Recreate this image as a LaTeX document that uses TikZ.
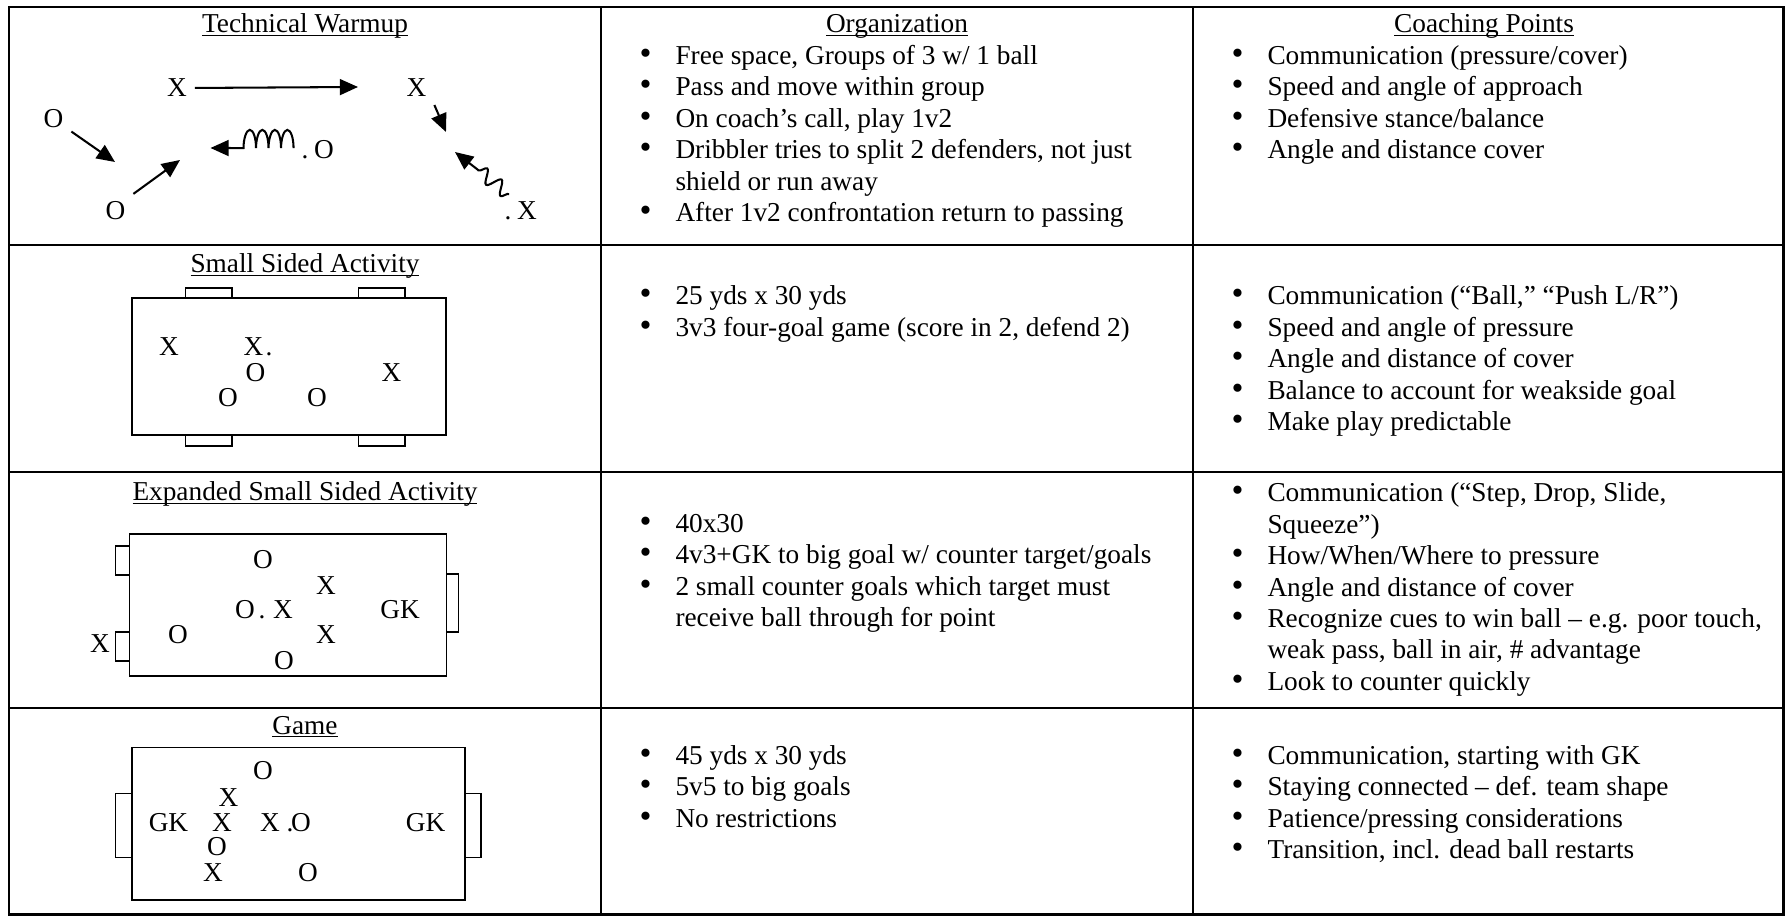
\documentclass[tikz,border=0pt]{standalone}
\usepackage{fontspec}
\setmainfont{Liberation Serif}
\usetikzlibrary{positioning, arrows.meta, decorations.pathmorphing}
\newcommand\ulined[1]{\setbox0\hbox{#1}\rlap{\rule[-1.5pt]{\wd0}{0.6pt}}\box0}
\newcommand\itm{\makebox[24.2pt][l]{\hspace{8.4pt}\scalebox{1.25}{\textbullet}}}
\newcommand\cont{\hspace{24.2pt}}

\begin{document}
\begin{tikzpicture}[x=0.4396pt, y=-0.4396pt,
  every node/.style={font=\fontsize{12}{13.8}\selectfont},
  grid/.style={line width=1pt},
  field/.style={draw, line width=0.8pt},
  player/.style={anchor=base},
  ball/.style={anchor=base},
  heading/.style={anchor=base},
  list/.style={anchor=base west, inner sep=0pt},
  arr/.style={-{Triangle[length=8pt, width=7pt]}, line width=0.9pt},
  dribble/.style={arr, decorate, decoration={bumps, mirror, amplitude=8pt, segment length=11pt, post length=10pt}},
  wiggle/.style={arr, decorate, decoration={snake, amplitude=3pt, segment length=8pt, post length=10pt}}]
  \useasboundingbox (0,0) rectangle (1785,916);

  % table
  \draw[grid] (9,7) rectangle (1783.5,914.5);
  \foreach \y in {245,472,708} \draw[grid] (9,\y) -- (1783.5,\y);
  \foreach \x in {601,1193} \draw[grid] (\x,7) -- (\x,914.5);

  % row 1: technical warmup
  \node[heading] (warmup) at (305,33) {\ulined{Technical Warmup}};
  \node[heading] (orghead) at (897,33) {\ulined{Organization}};
  \node[heading] (coachhead) at (1484,33) {\ulined{Coaching Points}};
  \node[player] (xA) at (177,97) {X};
  \node[player] (xB) at (416.5,97) {X};
  \node[player] (oA) at (53.5,128) {O};
  \node[ball] (bA) at (305,159) {.};
  \node[player] (oC) at (324,159) {O};
  \node[player] (oB) at (115.5,220) {O};
  \node[ball] (bB) at (508,220) {.};
  \node[player] (xC) at (527,220) {X};
  \coordinate (passA) at (358,87);
  \coordinate (runB) at (446,132);
  \coordinate (runA) at (115,162);
  \coordinate (passB) at (180,160);
  \coordinate (dribA) at (210.5,148);
  \coordinate (dribB) at (455,152);
  \draw[arr] (xA) -- (passA);
  \draw[arr] (xB.south east) -- (runB);
  \draw[arr] (oA) -- (runA);
  \draw[arr] (oB.north east) -- (passB);
  \draw[dribble] (bA.north west) -- (dribA);
  \draw[wiggle] (xC.north west) -- (dribB);
  \node[list] (org1) at (620,64.5) {\begin{tabular}[t]{@{}l@{}}
    \itm Free space, Groups of 3 w/ 1 ball\\
    \itm Pass and move within group\\
    \itm On coach’s call, play 1v2\\
    \itm Dribbler tries to split 2 defenders, not just\\
    \cont shield or run away\\
    \itm After 1v2 confrontation return to passing
  \end{tabular}};
  \node[list] (coach1) at (1212,64.5) {\begin{tabular}[t]{@{}l@{}}
    \itm Communication (pressure/cover)\\
    \itm Speed and angle of approach\\
    \itm Defensive stance/balance\\
    \itm Angle and distance cover
  \end{tabular}};

  % row 2: small sided activity
  \node[heading] (small) at (305,272.5) {\ulined{Small Sided Activity}};
  \draw[field] (132,298) rectangle (446,435);
  \foreach \x in {185.5,358.5} {
    \draw[field] (\x,288) rectangle ++(46.5,10);
    \draw[field] (\x,435) rectangle ++(46.5,11);
  }
  \node[player] (xD) at (169,355.5) {X};
  \node[player] (xE) at (253.5,355.5) {X};
  \node[ball] (bC) at (269,355.5) {.};
  \node[player] (oD) at (255.5,382) {O};
  \node[player] (xF) at (391.5,382) {X};
  \node[player] (oE) at (228,407) {O};
  \node[player] (oF) at (317,407) {O};
  \node[list] (org2) at (620,305) {\begin{tabular}[t]{@{}l@{}}
    \itm 25 yds x 30 yds\\
    \itm 3v3 four-goal game (score in 2, defend 2)
  \end{tabular}};
  \node[list] (coach2) at (1212,305) {\begin{tabular}[t]{@{}l@{}}
    \itm Communication (“Ball,” “Push L/R”)\\
    \itm Speed and angle of pressure\\
    \itm Angle and distance of cover\\
    \itm Balance to account for weakside goal\\
    \itm Make play predictable
  \end{tabular}};

  % row 3: expanded small sided activity
  \node[heading] (expanded) at (305,500.5) {\ulined{Expanded Small Sided Activity}};
  \draw[field] (129.5,534) rectangle (446.5,676);
  \draw[field] (115.5,546) rectangle (129.5,575);
  \draw[field] (115.5,632) rectangle (129.5,661);
  \draw[field] (446.5,574) rectangle (458.5,632);
  \node[player] (oG) at (263,568) {O};
  \node[player] (xG) at (326,594) {X};
  \node[player] (oH) at (245,618) {O};
  \node[ball] (bD) at (262,618) {.};
  \node[player] (xH) at (283,618) {X};
  \node[player] (gkA) at (400,618) {GK};
  \node[player] (oI) at (178,643) {O};
  \node[player] (xI) at (326,643) {X};
  \node[player] (oJ) at (284,669) {O};
  \node[player] (xJ) at (100,652) {X};
  \node[list] (org3) at (620,532.5) {\begin{tabular}[t]{@{}l@{}}
    \itm 40x30\\
    \itm 4v3+GK to big goal w/ counter target/goals\\
    \itm 2 small counter goals which target must\\
    \cont receive ball through for point
  \end{tabular}};
  \node[list] (coach3) at (1212,502) {\begin{tabular}[t]{@{}l@{}}
    \itm Communication (“Step, Drop, Slide,\\
    \cont Squeeze”)\\
    \itm How/When/Where to pressure\\
    \itm Angle and distance of cover\\
    \itm Recognize cues to win ball – e.g. poor touch,\\
    \cont weak pass, ball in air, \# advantage\\
    \itm Look to counter quickly
  \end{tabular}};

  % row 4: game
  \node[heading] (game) at (305,734) {\ulined{Game}};
  \draw[field] (132,747.5) rectangle (465,900);
  \draw[field] (115.5,793.5) rectangle (132,857.5);
  \draw[field] (465,793.5) rectangle (481,857.5);
  \node[player] (oK) at (263,779.7) {O};
  \node[player] (xK) at (228.5,806.3) {X};
  \node[player] (gkB) at (168.5,831.7) {GK};
  \node[player] (xL) at (222,831.7) {X};
  \node[player] (xM) at (270,831.7) {X};
  \node[ball] (bE) at (290,831.7) {.};
  \node[player] (oL) at (301,831.7) {O};
  \node[player] (gkC) at (425.5,831.7) {GK};
  \node[player] (oM) at (217,855) {O};
  \node[player] (xN) at (213,881.3) {X};
  \node[player] (oN) at (308,881.3) {O};
  \node[list] (org4) at (620,764.5) {\begin{tabular}[t]{@{}l@{}}
    \itm 45 yds x 30 yds\\
    \itm 5v5 to big goals\\
    \itm No restrictions
  \end{tabular}};
  \node[list] (coach4) at (1212,764.5) {\begin{tabular}[t]{@{}l@{}}
    \itm Communication, starting with GK\\
    \itm Staying connected – def. team shape\\
    \itm Patience/pressing considerations\\
    \itm Transition, incl. dead ball restarts
  \end{tabular}};
\end{tikzpicture}
\end{document}
